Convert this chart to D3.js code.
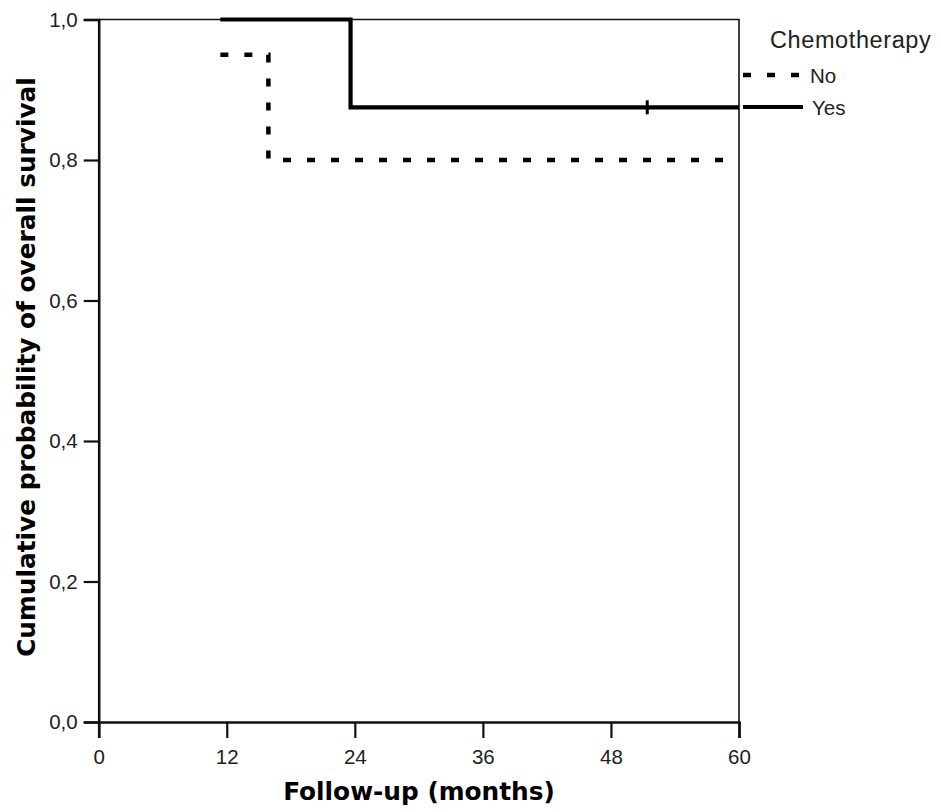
<!DOCTYPE html>
<html>
<head>
<meta charset="utf-8">
<script src="https://cdn.jsdelivr.net/npm/d3@7"></script>
<style>
  body { margin: 0; background: #fff; }
  svg { display: block; }
  .tick text { font-family: "Liberation Sans", Arial, sans-serif; font-size: 20.5px; fill: #222; }
  .axis-title { font-family: "DejaVu Sans", Verdana, sans-serif; font-weight: bold; font-size: 24.8px; fill: #000; }
  .legend text { font-family: "Liberation Sans", Arial, sans-serif; fill: #222; }
</style>
</head>
<body>
<script>
// Kaplan-Meier steps (months, probability)
const noSteps = [[11.4, 0.95], [15.9, 0.95], [15.9, 0.80], [59.3, 0.80]];
const yesSteps = [[11.4, 1.0], [23.6, 1.0], [23.6, 0.875], [60, 0.875]];
const yesCensored = [[51.4, 0.875]];
const xTicks = [0, 12, 24, 36, 48, 60];
const yTicks = [0, 0.2, 0.4, 0.6, 0.8, 1.0];
const groups = ["No", "Yes"];

const W = 941, H = 812;
const svg = d3.select("body").append("svg").attr("width", W).attr("height", H);

const x = d3.scaleLinear().domain([0, 60]).range([98.7, 739]);
const y = d3.scaleLinear().domain([0, 1]).range([722, 19.5]);

const comma = d3.formatLocale({ decimal: ",", thousands: ".", grouping: [3], currency: ["", ""] });

// frame (top + right)
svg.append("path")
    .attr("d", `M${x(0)},${y(1)}H${x(60)}V${y(0)}`)
    .attr("fill", "none").attr("stroke", "#111").attr("stroke-width", 1.6);

const gx = svg.append("g").attr("transform", `translate(0,${y(0)})`)
    .call(d3.axisBottom(x).tickValues(xTicks).tickSize(16).tickPadding(11).tickFormat(d3.format("d")));
const gy = svg.append("g").attr("transform", `translate(${x(0)},0)`)
    .call(d3.axisLeft(y).tickValues(yTicks).tickSize(15).tickPadding(6).tickFormat(comma.format(".1f")));
[gx, gy].forEach(g => {
    g.select(".domain").attr("stroke", "#111").attr("stroke-width", 2.6);
    g.selectAll(".tick line").attr("stroke", "#111").attr("stroke-width", 2.2);
});

svg.append("text").attr("class", "axis-title")
    .attr("x", 419).attr("y", 800).attr("text-anchor", "middle")
    .text("Follow-up (months)");
svg.append("text").attr("class", "axis-title")
    .attr("transform", "translate(35,367) rotate(-90)").attr("text-anchor", "middle")
    .text("Cumulative probability of overall survival");

const line = d3.line().x(d => x(d[0])).y(d => y(d[1]));

svg.append("path").datum(noSteps).attr("d", line)
    .attr("fill", "none").attr("stroke", "#000").attr("stroke-width", 4.5)
    .attr("stroke-dasharray", "8,16");
svg.append("path").datum(yesSteps).attr("d", line)
    .attr("fill", "none").attr("stroke", "#000").attr("stroke-width", 4.2);
svg.selectAll(".cens").data(yesCensored).enter().append("line")
    .attr("x1", d => x(d[0])).attr("x2", d => x(d[0]))
    .attr("y1", d => y(d[1]) - 7).attr("y2", d => y(d[1]) + 7)
    .attr("stroke", "#000").attr("stroke-width", 3);

// legend
const lg = svg.append("g").attr("class", "legend");
lg.append("text").attr("x", 770).attr("y", 47.5)
    .style("font-size", "23.5px").style("letter-spacing", "0.6px")
    .text("Chemotherapy");
const rows = lg.selectAll(".row").data(groups).enter().append("g")
    .attr("transform", (d, i) => `translate(0,${75 + i * 32})`);
rows.append("line").attr("x1", 743).attr("x2", d => d === "No" ? 801 : 803)
    .attr("stroke", "#000").attr("stroke-width", d => d === "No" ? 4.5 : 4.2)
    .attr("stroke-dasharray", d => d === "No" ? "8,16" : null);
rows.append("text").attr("x", d => d === "No" ? 810 : 812).attr("y", 7.5)
    .style("font-size", "20.5px").text(d => d);
</script>
</body>
</html>
